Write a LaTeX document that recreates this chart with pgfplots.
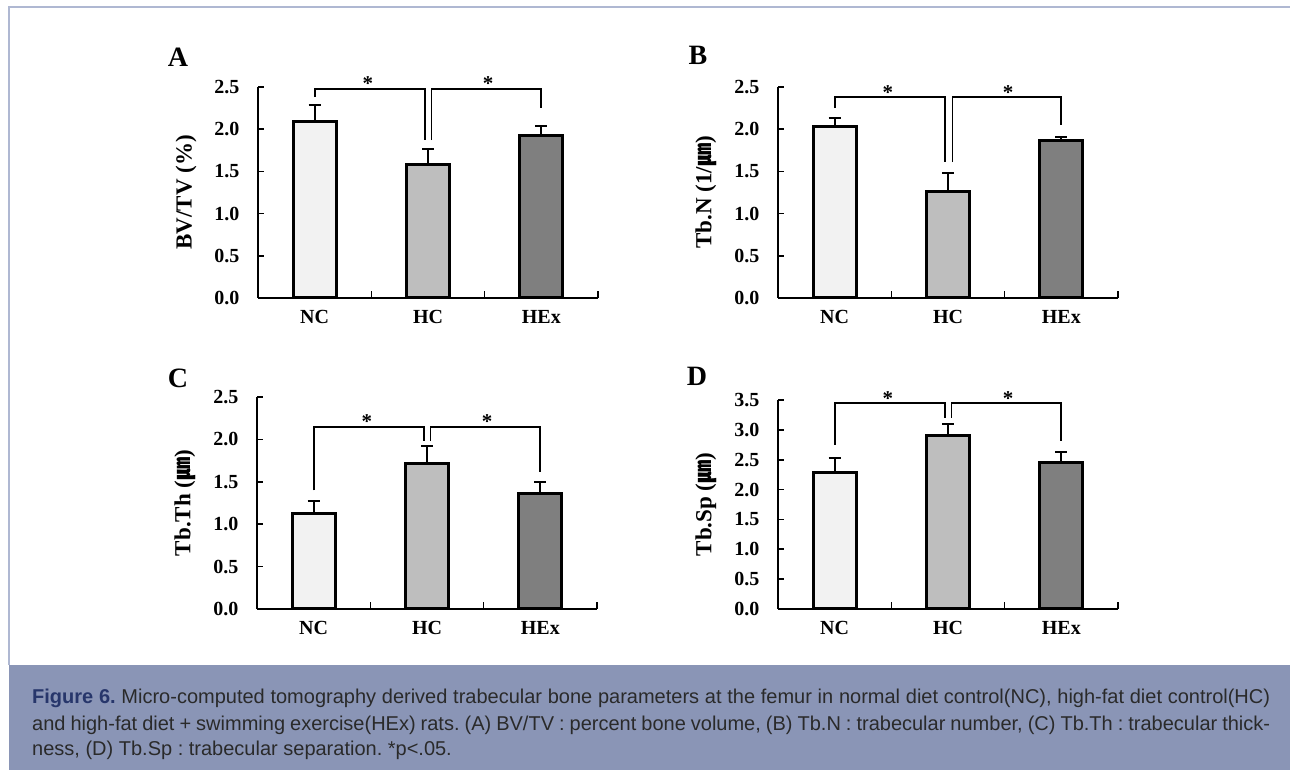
\documentclass[border=0pt]{standalone}
\usepackage{pgfplots}
\pgfplotsset{compat=1.18}
\usepackage{fontspec}
\setmainfont{Liberation Serif}
\newfontfamily\capfont{Liberation Sans}
\newfontfamily\cjk{Noto Sans CJK KR}
\definecolor{ncfill}{HTML}{F2F2F2}
\definecolor{hcfill}{HTML}{BEBEBE}
\definecolor{hexfill}{HTML}{7F7F7F}
\definecolor{capbg}{HTML}{8A95B6}
\definecolor{capnavy}{HTML}{27366B}
\definecolor{captext}{HTML}{2A2A2A}
\definecolor{framec}{HTML}{AFB8D2}

\pgfplotsset{
  panel/.style={
    scale only axis, width=340pt,
    anchor=south west,
    xmin=-0.5, xmax=2.5, ymin=0,
    axis x line*=bottom, axis y line*=left,
    axis line style={line width=1.8pt, black},
    xtick={0,1,2}, xticklabels={NC,HC,HEx},
    minor xtick={0.5,1.5,2.5},
    major x tick style={draw=none},
    minor tick length=7pt, major tick length=6pt,
    tick align=inside,
    tick style={line width=1.6pt, black},
    ytick distance=0.5,
    yticklabel style={/pgf/number format/fixed, /pgf/number format/fixed zerofill, /pgf/number format/precision=1},
    /pgf/number format/assume math mode=true,
    ticklabel style={font=\fontsize{20}{20}\selectfont\bfseries},
    xticklabel style={yshift=-9pt},
    yticklabel style={xshift=-15pt},
    label style={font=\fontsize{23}{23}\selectfont\bfseries},
    ylabel style={yshift=11pt},
    clip=false,
  },
  bar/.style={ybar, bar width=43pt, draw=black, line width=3pt,
    error bars/y dir=plus, error bars/y explicit,
    error bars/error bar style={line width=1.8pt, black},
    error bars/error mark=-,
    error bars/error mark options={rotate=90, line width=1.8pt, mark size=6pt, black}},
  brk/.style={black, line width=1.8pt, no markers, sharp plot, line join=miter},
}
\tikzset{sig/.style={anchor=base, font=\fontsize{21}{21}\selectfont\bfseries}}

\begin{document}
\frenchspacing
\begin{tikzpicture}
\useasboundingbox (0,0) rectangle (1290pt,770pt);
\fill[white] (0,0) rectangle (1290pt,770pt);
\fill[capbg] (9pt,0pt) rectangle (1290pt,105pt);
\draw[framec, line width=2pt] (9pt,105pt) -- (9pt,763pt) -- (1291pt,763pt);

% Panel A
\begin{axis}[panel, at={(258pt,472pt)}, height=211pt, ymax=2.5, ylabel={BV/TV (\%)}]
\addplot[bar, fill=ncfill] coordinates {(0,2.09) +- (0,0.20)};
\addplot[bar, fill=hcfill] coordinates {(1,1.58) +- (0,0.19)};
\addplot[bar, fill=hexfill] coordinates {(2,1.93) +- (0,0.11)};
\addplot[brk] coordinates {(0,2.38) (0,2.48) (0.97,2.48) (0.97,1.87)};
\addplot[brk] coordinates {(1.03,1.87) (1.03,2.48) (2,2.48) (2,2.25)};
\node[sig] at (axis cs:0.47,2.46) {*};
\node[sig] at (axis cs:1.53,2.46) {*};
\end{axis}

% Panel B
\begin{axis}[panel, at={(778pt,472pt)}, height=211pt, ymax=2.5, ylabel={Tb.N (1/{\cjk ㎛})}]
\addplot[bar, fill=ncfill] coordinates {(0,2.03) +- (0,0.10)};
\addplot[bar, fill=hcfill] coordinates {(1,1.26) +- (0,0.22)};
\addplot[bar, fill=hexfill] coordinates {(2,1.87) +- (0,0.04)};
\addplot[brk] coordinates {(0,2.25) (0,2.38) (0.97,2.38) (0.97,1.61)};
\addplot[brk] coordinates {(1.04,1.61) (1.04,2.38) (2,2.38) (2,2.05)};
\node[sig] at (axis cs:0.47,2.35) {*};
\node[sig] at (axis cs:1.53,2.35) {*};
\end{axis}

% Panel C
\begin{axis}[panel, at={(257pt,161pt)}, height=212pt, ymax=2.5, ylabel={Tb.Th ({\cjk ㎛})}]
\addplot[bar, fill=ncfill] coordinates {(0,1.13) +- (0,0.14)};
\addplot[bar, fill=hcfill] coordinates {(1,1.71) +- (0,0.21)};
\addplot[bar, fill=hexfill] coordinates {(2,1.36) +- (0,0.14)};
\addplot[brk] coordinates {(0,1.40) (0,2.15) (0.97,2.15) (0.97,1.98)};
\addplot[brk] coordinates {(1.03,1.98) (1.03,2.15) (2,2.15) (2,1.62)};
\node[sig] at (axis cs:0.47,2.13) {*};
\node[sig] at (axis cs:1.53,2.13) {*};
\end{axis}

% Panel D
\begin{axis}[panel, at={(778pt,161pt)}, height=209pt, ymax=3.5, ylabel={Tb.Sp ({\cjk ㎛})}]
\addplot[bar, fill=ncfill] coordinates {(0,2.28) +- (0,0.25)};
\addplot[bar, fill=hcfill] coordinates {(1,2.91) +- (0,0.19)};
\addplot[bar, fill=hexfill] coordinates {(2,2.45) +- (0,0.18)};
\addplot[brk] coordinates {(0,2.75) (0,3.45) (0.97,3.45) (0.97,3.20)};
\addplot[brk] coordinates {(1.03,3.20) (1.03,3.45) (2,3.45) (2,2.81)};
\node[sig] at (axis cs:0.47,3.41) {*};
\node[sig] at (axis cs:1.53,3.41) {*};
\end{axis}

% panel letters
\node[font=\fontsize{28}{28}\selectfont\bfseries] at (178pt,713pt) {A};
\node[font=\fontsize{28}{28}\selectfont\bfseries] at (698pt,715pt) {B};
\node[font=\fontsize{28}{28}\selectfont\bfseries] at (178pt,392pt) {C};
\node[font=\fontsize{28}{28}\selectfont\bfseries] at (697pt,394pt) {D};

% caption
\begin{scope}[every node/.style={anchor=base west, inner sep=0pt, text=captext, font=\capfont\fontsize{20}{26}\selectfont}]
\node at (32pt,66pt) {\makebox[1238pt][s]{{\bfseries\color{capnavy}Figure 6.} Micro-computed tomography derived trabecular bone parameters at the femur in normal diet control(NC), high-fat diet control(HC)}};
\node at (32pt,39pt) {\makebox[1238pt][s]{and high-fat diet + swimming exercise(HEx) rats. (A) BV/TV : percent bone volume, (B) Tb.N : trabecular number, (C) Tb.Th : trabecular thick-}};
\node at (32pt,14pt) {ness, (D) Tb.Sp : trabecular separation. *p<.05.};
\end{scope}
\end{tikzpicture}
\end{document}
